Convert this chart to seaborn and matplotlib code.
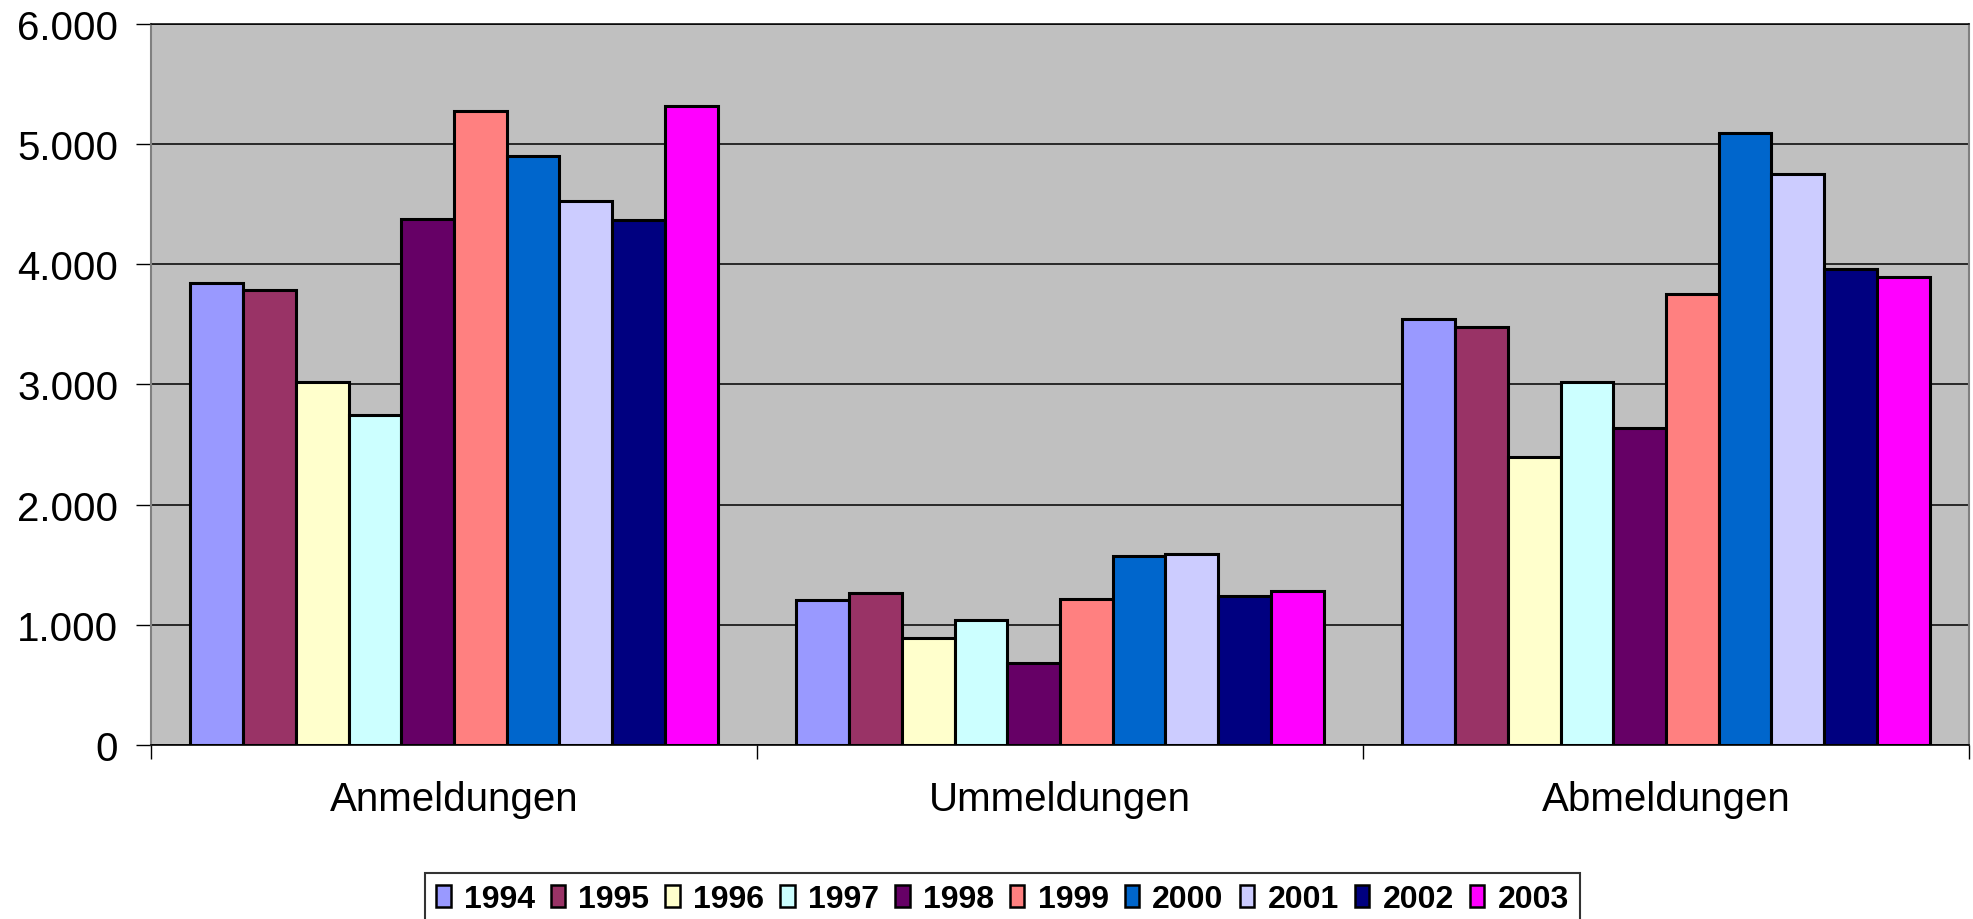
import matplotlib
matplotlib.use("Agg")
import matplotlib.pyplot as plt
import matplotlib.ticker as mticker
import numpy as np
import pandas as pd
import seaborn as sns

# Werte
kategorien = ["Anmeldungen", "Ummeldungen", "Abmeldungen"]
jahre = ["1994", "1995", "1996", "1997", "1998", "1999", "2000", "2001", "2002", "2003"]
anmeldungen = [3841, 3789, 3022, 2744, 4376, 5276, 4900, 4529, 4365, 5320]
ummeldungen = [1209, 1265, 894, 1044, 685, 1215, 1575, 1586, 1237, 1279]
abmeldungen = [3546, 3477, 2397, 3023, 2636, 3749, 5090, 4750, 3963, 3897]
farben = ["#9999FF", "#993366", "#FFFFCC", "#CCFFFF", "#660066",
          "#FF8080", "#0066CC", "#CCCCFF", "#000080", "#FF00FF"]

df = pd.DataFrame({
    "kategorie": np.repeat(kategorien, len(jahre)),
    "jahr": jahre * len(kategorien),
    "wert": anmeldungen + ummeldungen + abmeldungen,
})

plt.rcParams["font.family"] = ["Liberation Sans", "DejaVu Sans"]

fig = plt.figure(figsize=(19.73, 9.2), dpi=100)
ax = fig.add_axes([0.0765, 0.189, 0.9215, 0.784])

sns.barplot(data=df, x="kategorie", y="wert", hue="jahr", palette=farben,
            width=0.87, edgecolor="black", linewidth=2.2, saturation=1,
            errorbar=None, ax=ax)

ax.set_facecolor("#C0C0C0")
ax.set_axisbelow(True)
ax.set_xlim(-0.5, 2.5)
ax.set_ylim(0, 6000)
ax.set_yticks(range(0, 6001, 1000))
ax.yaxis.set_major_formatter(mticker.FuncFormatter(lambda v, p: f"{int(v):,}".replace(",", ".")))
ax.yaxis.grid(True, color="black", linewidth=1.1)
ax.xaxis.grid(False)
ax.set_xlabel("")
ax.set_ylabel("")

ax.set_xticks([-0.5, 0.5, 1.5, 2.5], minor=True)
ax.tick_params(axis="x", which="major", length=0, pad=25, labelsize=29, colors="black")
ax.tick_params(axis="x", which="minor", length=10, width=1, color="black")
ax.tick_params(axis="y", length=10.5, width=1, pad=13, labelsize=29, colors="black")

for s in ["left", "right"]:
    ax.spines[s].set_color("#808080")
    ax.spines[s].set_linewidth(1.5)
ax.spines["bottom"].set_color("black")
ax.spines["bottom"].set_linewidth(1.2)
ax.spines["top"].set_color("black")
ax.spines["top"].set_linewidth(1.1)

handles, labels = ax.get_legend_handles_labels()
ax.get_legend().remove()
leg = fig.legend(handles, labels, loc="upper center", bbox_to_anchor=(0.508, 1 - 874 / 920),
                 ncol=10, frameon=True, fancybox=False, edgecolor="black",
                 prop={"weight": "bold", "size": 23}, handlelength=0.46, handleheight=0.72,
                 handletextpad=0.41, columnspacing=0.5, borderpad=0.35, borderaxespad=0)
leg.get_frame().set_linewidth(1.5)
for h in leg.legend_handles:
    h.set_linewidth(1.8)

fig.savefig("out.png", dpi=100)
